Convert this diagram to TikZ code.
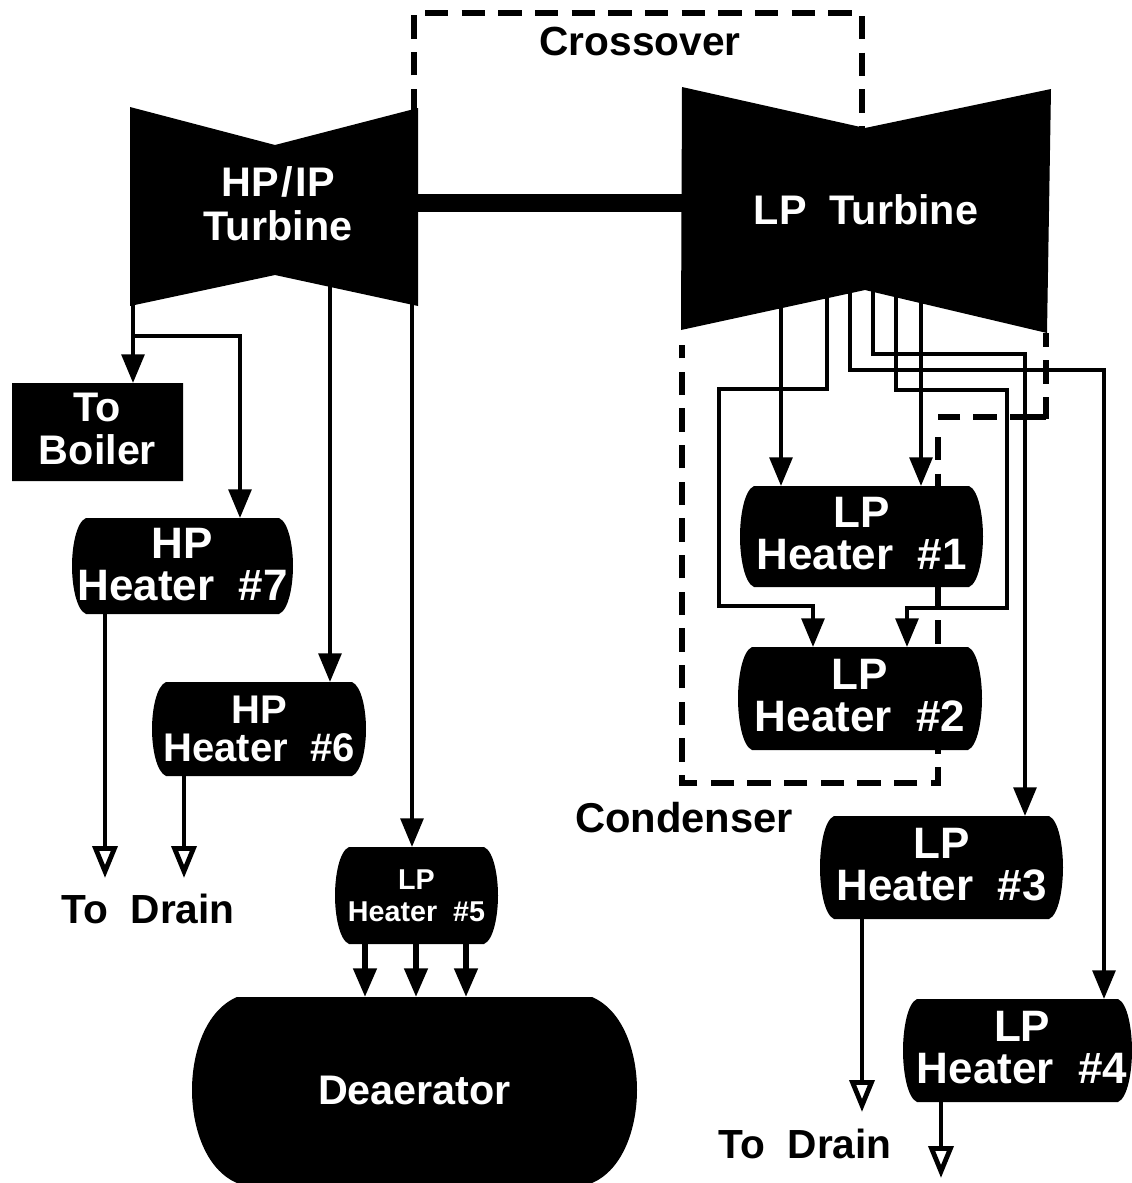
\documentclass[tikz,border=0pt]{standalone}
\usepackage{fontspec}
\setmainfont{Liberation Sans}
\usetikzlibrary{arrows.meta}

\newcommand{\barrel}[8][]{%
  \fill (#3+#7,#4) -- (#5-#7,#4)
    .. controls (#5-#7*0.3,#4+#7*0.3) and (#5,#4*0.7+#6*0.3) .. (#5,#4*0.5+#6*0.5)
    .. controls (#5,#4*0.3+#6*0.7) and (#5-#7*0.3,#6-#7*0.3) .. (#5-#7,#6)
    -- (#3+#7,#6)
    .. controls (#3+#7*0.3,#6-#7*0.3) and (#3,#4*0.3+#6*0.7) .. (#3,#4*0.5+#6*0.5)
    .. controls (#3,#4*0.7+#6*0.3) and (#3+#7*0.3,#4+#7*0.3) .. cycle;
  \node[vessel, minimum width={(#5-#3)*0.75pt}, minimum height={(#6-#4)*0.75pt}] (#2) at ({(#3+#5)/2},{(#4+#6)/2}) {};
  \node[vtext, #1] (#2text) at (#2) {#8};
}

\begin{document}
\begin{tikzpicture}[x=0.75pt, y=-0.75pt,
  vessel/.style={inner sep=0pt, outer sep=0pt},
  vtext/.style={inner sep=0pt, align=center, text=white, font=\fontsize{33}{31.5}\bfseries\selectfont},
  turb/.style={inner sep=0pt, outer sep=0pt, align=center, text=white, font=\fontsize{31}{33}\bfseries\selectfont},
  tag/.style={inner sep=0pt, font=\fontsize{31.3}{33}\bfseries\selectfont},
  drainfont/.style={font=\fontsize{30.5}{31}\bfseries\selectfont},
  arr/.style={-{Triangle[length=21.5pt, width=17pt]}, line width=3pt},
  openarr/.style={-{Triangle[open, fill=white, length=24pt, width=18.5pt, line width=3.6pt]}, line width=3pt},
  wall/.style={line width=3.8pt, dash pattern=on 17.5pt off 10pt},
  shaft/.style={line width=13pt}]
  \useasboundingbox (0,0) rectangle (1132,1183);

  % dashed casings
  \coordinate (crossa) at (414,112);
  \coordinate (crossb) at (862,128);
  \draw[wall] (crossa) |- (638,13) -| (crossb);
  \coordinate (conda) at (682,345);
  \coordinate (condb) at (1046,333);
  \coordinate (condc) at (938,437);
  \draw[wall] (condc) |- (682,783) -- (conda);
  \draw[wall, dash phase=7pt] (condb) -- (1046,419);
  \draw[wall, dash pattern=on 27pt off 10pt on 17.5pt off 10pt on 17pt] (1046,417) -- (938,417);

  % shaft
  \coordinate (shaftmid) at (550,203);

  % tap points
  \coordinate (hpa) at (133,295);
  \coordinate (hpb) at (240,336);
  \coordinate (hpc) at (330,280);
  \coordinate (hpd) at (412,295);
  \coordinate (lpa) at (781,300);
  \coordinate (lpb) at (827,285);
  \coordinate (lpc) at (850,280);
  \coordinate (lpd) at (873,280);
  \coordinate (lpe) at (896,285);
  \coordinate (lpf) at (921,290);

  % turbines
  \fill (130,107) -- (275,145) -- (418,108) -- (418,306) -- (275,275) -- (130,306) -- cycle;
  \fill (682,87) -- (865,128) -- (1051,89) -- (1047,333) -- (865,290) -- (681,330) -- cycle;
  \node[turb] (hpt) at (278,204) {HP\kern2pt/\kern2pt IP\\Turbine};
  \node[turb] (lpt) at (866,210) {LP\ \ Turbine};
  \draw[shaft] (418,203 -| hpt.east) -- (shaftmid) -- (682,203);

  % vessels
  \barrel[yshift=2.25pt, font=\fontsize{31}{32}\bfseries\selectfont]{boiler}{12}{383}{183}{481}{0}{To\\Boiler}
  \barrel[yshift=0.75pt]{hpseven}{72}{518}{293}{614}{14}{HP\\Heater\ \ \#7}
  \barrel[font=\fontsize{30}{28.5}\bfseries\selectfont]{hpsix}{152}{682}{366}{776}{14}{HP\\Heater\ \ \#6}
  \barrel[font=\fontsize{21.5}{24}\bfseries\selectfont]{lpfive}{335}{847}{498}{944}{14}{LP\\Heater\ \ \#5}
  \barrel[font=\fontsize{31}{33}\bfseries\selectfont]{dea}{192}{997}{637}{1183}{45}{Deaerator}
  \barrel[yshift=2.5pt]{lpone}{740}{486}{983}{587}{14}{LP\\Heater\ \ \#1}
  \barrel[yshift=2.5pt]{lptwo}{738}{647}{982}{750}{14}{LP\\Heater\ \ \#2}
  \barrel[yshift=2.25pt]{lpthree}{820}{816}{1063}{919}{14}{LP\\Heater\ \ \#3}
  \barrel[yshift=2.25pt, xshift=3.5pt]{lpfour}{903}{999}{1132}{1102}{14}{LP\\Heater\ \ \#4}

  % extraction lines, HP/IP side
  \draw[arr] (hpa) -- (hpa |- boiler.north);
  \draw[arr] (hpa |- hpb) -- (hpb) -- (hpb |- hpseven.north);
  \draw[arr] (hpc) -- (hpc |- hpsix.north);
  \draw[arr] (hpd) -- (hpd |- lpfive.north);

  % extraction lines, LP side
  \coordinate (tolptwoa) at (813,606);
  \coordinate (tolptwob) at (907,608);
  \coordinate (tolpthree) at (1025,354);
  \coordinate (tolpfour) at (1104,370);
  \draw[arr] (lpa) -- (lpa |- lpone.north);
  \draw[arr] (lpf) -- (lpf |- lpone.north);
  \draw[arr] (lpb) |- (719,389) |- (tolptwoa) -- (tolptwoa |- lptwo.north);
  \draw[arr] (lpe) |- (1007,390) |- (tolptwob) -- (tolptwob |- lptwo.north);
  \draw[arr] (lpd) |- (tolpthree) -- (tolpthree |- lpthree.north);
  \draw[arr] (lpc) |- (tolpfour) -- (tolpfour |- lpfour.north);

  % feed into deaerator
  \draw[arr, line width=4.2pt] (lpfive.south -| 365,0) -- (365,0 |- dea.north);
  \draw[arr, line width=4.2pt] (lpfive.south -| 416,0) -- (416,0 |- dea.north);
  \draw[arr, line width=4.2pt] (lpfive.south -| 466,0) -- (466,0 |- dea.north);

  % drains
  \coordinate (drainb) at (105,878);
  \coordinate (drainc) at (184,878);
  \coordinate (draind) at (862,1112);
  \coordinate (draine) at (941,1178);
  \draw[openarr] (hpseven.south -| drainb) -- (drainb);
  \draw[openarr] (hpsix.south -| drainc) -- (drainc);
  \draw[openarr] (lpthree.south -| draind) -- (draind);
  \draw[openarr] (lpfour.south -| draine) -- (draine);

  % labels
  \node[tag, font=\fontsize{30.5}{31}\bfseries\selectfont] (crosslabel) at (640,41) {Crossover};
  \node[tag] (condlabel) at (684,818) {Condenser};
  \node[tag, drainfont] (draina) at (148,909) {To\ \ Drain};
  \node[tag, drainfont] (drainf) at (805,1144) {To\ \ Drain};
\end{tikzpicture}
\end{document}
